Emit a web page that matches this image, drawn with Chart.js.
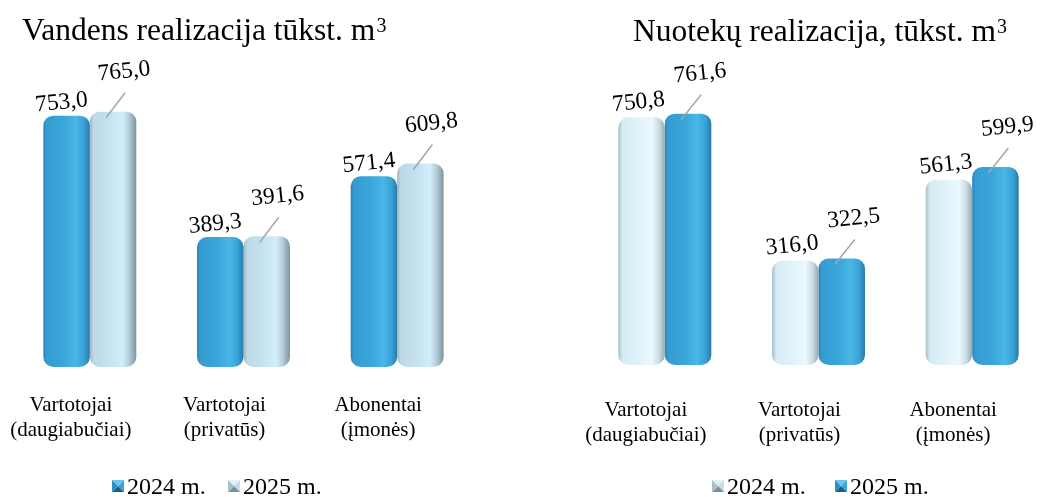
<!DOCTYPE html>
<html>
<head>
<meta charset="utf-8">
<script src="https://cdn.jsdelivr.net/npm/chart.js@4.4.1/dist/chart.umd.min.js"></script>
<style>
    html, body { margin: 0; padding: 0; background: #fff; width: 1044px; height: 497px; overflow: hidden; }
    canvas { position: absolute; top: 0; }
    #water-chart { left: 0; }
    #sewage-chart { left: 510px; }
</style>
</head>
<body>
<canvas id="water-chart" width="522" height="497"></canvas>
<canvas id="sewage-chart" width="550" height="497"></canvas>
<script>
// Data
const categories = [['Vartotojai', '(daugiabučiai)'], ['Vartotojai', '(privatūs)'], ['Abonentai', '(įmonės)']];
const seriesNames = ['2024 m.', '2025 m.'];
const water2024 = [753.0, 389.3, 571.4];
const water2025 = [765.0, 391.6, 609.8];
const sewage2024 = [750.8, 316.0, 561.3];
const sewage2025 = [761.6, 322.5, 599.9];
const waterTitle = 'Vandens realizacija tūkst. m';
const sewageTitle = 'Nuotekų realizacija, tūkst. m';
const titleSup = '3';

const FONT = "'Liberation Serif', 'Times New Roman', serif";

// Shading of the "3D" bars (left to right across a bar)
const blueShade = [[0, '#2A84B7'], [0.07, '#359CD1'], [0.45, '#3AA6DB'], [0.7, '#4AB7E7'], [0.88, '#38A0D5'], [1, '#287AA6']];
const lightShade = [[0, '#9DB6C3'], [0.08, '#BDD8E6'], [0.45, '#C6E3F2'], [0.7, '#D3EEFA'], [0.84, '#B4CEDB'], [1, '#7E949F']];
const paleShade = [[0, '#A9BDC6'], [0.09, '#D6EBF3'], [0.45, '#E1F3FA'], [0.72, '#ECF9FE'], [0.88, '#C7DAE2'], [1, '#94A8B1']];

const blueMarker = { top: '#6CC4EC', left: '#2F8DC2', right: '#3FA6D8', bottom: '#1B5E88' };
const lightMarker = { top: '#E2F1F7', left: '#A9BFC9', right: '#C8DCE5', bottom: '#7C9099' };

function fmt(v) {
    return v.toFixed(1).replace('.', ',');
}

function drawMarker(ctx, x, y, s, m) {
    const cx = x + s / 2, cy = y + s / 2;
    const tri = (pts, color) => {
        ctx.beginPath();
        ctx.moveTo(pts[0], pts[1]);
        ctx.lineTo(pts[2], pts[3]);
        ctx.lineTo(cx, cy);
        ctx.closePath();
        ctx.fillStyle = color;
        ctx.fill();
    };
    tri([x, y, x + s, y], m.top);
    tri([x + s, y, x + s, y + s], m.right);
    tri([x + s, y + s, x, y + s], m.bottom);
    tri([x, y + s, x, y], m.left);
}

// Horizontal gradient on every bar
const barShading = {
    id: 'barShading',
    beforeDatasetsDraw(chart) {
        const ctx = chart.ctx;
        chart.data.datasets.forEach((ds, di) => {
            chart.getDatasetMeta(di).data.forEach(bar => {
                const g = ctx.createLinearGradient(bar.x - bar.width / 2, 0, bar.x + bar.width / 2, 0);
                ds.shade.forEach(([o, c]) => g.addColorStop(o, c));
                bar.options.backgroundColor = g;
            });
        });
    }
};

// Value labels, slightly tilted, with leader lines for the second series
const valueLabels = {
    id: 'valueLabels',
    afterDatasetsDraw(chart) {
        const ctx = chart.ctx;
        chart.data.datasets.forEach((ds, di) => {
            const st = ds.valueLabel;
            chart.getDatasetMeta(di).data.forEach((bar, i) => {
                const lx = bar.x + st.dx;
                const ly = bar.y + st.dy;
                ctx.save();
                if (st.leader) {
                    ctx.strokeStyle = '#A6A6A6';
                    ctx.lineWidth = 1.5;
                    ctx.beginPath();
                    ctx.moveTo(bar.x - 7, bar.y + 6);
                    ctx.lineTo(lx + 1, ly + 21);
                    ctx.stroke();
                }
                ctx.translate(lx, ly);
                ctx.rotate(-6 * Math.PI / 180);
                ctx.font = `23.5px ${FONT}`;
                ctx.fillStyle = '#000';
                ctx.textAlign = 'center';
                ctx.textBaseline = 'middle';
                ctx.fillText(fmt(ds.data[i]), 0, 0);
                ctx.restore();
            });
        });
    }
};

// Title (with superscript) and legend placed like in the reference
const panelText = {
    id: 'panelText',
    afterDraw(chart, args, opts) {
        const ctx = chart.ctx;
        ctx.save();
        ctx.fillStyle = '#000';
        ctx.textAlign = 'left';
        ctx.textBaseline = 'alphabetic';
        ctx.font = `31.5px ${FONT}`;
        ctx.fillText(opts.title, opts.titleX, opts.titleY);
        const w = ctx.measureText(opts.title).width;
        ctx.font = `20px ${FONT}`;
        ctx.fillText(titleSup, opts.titleX + w + 1, opts.titleY - 8);
        ctx.font = `24px ${FONT}`;
        chart.data.datasets.forEach((ds, i) => {
            const mx = opts.legendX + i * opts.legendPitch;
            drawMarker(ctx, mx, opts.legendY - 14, 12, ds.marker);
            ctx.fillStyle = '#000';
            ctx.fillText(ds.label, mx + 15, opts.legendY);
        });
        ctx.restore();
    }
};

function makeDataset(label, data, shade, marker, valueLabel) {
    return {
        label,
        data,
        shade,
        marker,
        valueLabel,
        backgroundColor: c => c.dataset.shade[2][1],
        borderWidth: 0,
        borderRadius: 10,
        borderSkipped: false,
        categoryPercentage: 0.605,
        barPercentage: 1.0
    };
}

function buildChart(canvasId, datasets, cfg) {
    return new Chart(document.getElementById(canvasId), {
        type: 'bar',
        data: { labels: categories, datasets },
        options: {
            responsive: false,
            animation: false,
            events: [],
            layout: { padding: cfg.padding },
            scales: {
                x: {
                    grid: { display: false },
                    border: { display: false },
                    ticks: {
                        color: '#000',
                        font: { family: FONT, size: 21, lineHeight: 1.2 },
                        padding: cfg.tickPadding,
                        labelOffset: -19,
                        maxRotation: 0,
                        autoSkip: false
                    },
                    afterFit: s => { s.height = cfg.axisHeight; }
                },
                y: { display: false, min: 0, max: 800 }
            },
            plugins: {
                legend: { display: false },
                tooltip: { enabled: false },
                panelText: cfg.panel
            }
        },
        plugins: [barShading, valueLabels, panelText]
    });
}

buildChart('water-chart', [
    makeDataset(seriesNames[0], water2024, blueShade, blueMarker, { dx: -5, dy: -13, leader: false }),
    makeDataset(seriesNames[1], water2025, lightShade, lightMarker, { dx: 11, dy: -40, leader: true })
], {
    padding: { top: 100, left: 13, right: 48, bottom: 0 },
    axisHeight: 130,
    tickPadding: 18,
    panel: { title: waterTitle, titleX: 22, titleY: 40, legendX: 112, legendY: 494, legendPitch: 116 }
});

buildChart('sewage-chart', [
    makeDataset(seriesNames[0], sewage2024, paleShade, lightMarker, { dx: -3, dy: -15, leader: false }),
    makeDataset(seriesNames[1], sewage2025, blueShade, blueMarker, { dx: 12, dy: -40, leader: true })
], {
    padding: { top: 101, left: 78, right: 11, bottom: 0 },
    axisHeight: 132,
    tickPadding: 25,
    panel: { title: sewageTitle, titleX: 123, titleY: 41, legendX: 202, legendY: 494, legendPitch: 123 }
});
</script>
</body>
</html>
